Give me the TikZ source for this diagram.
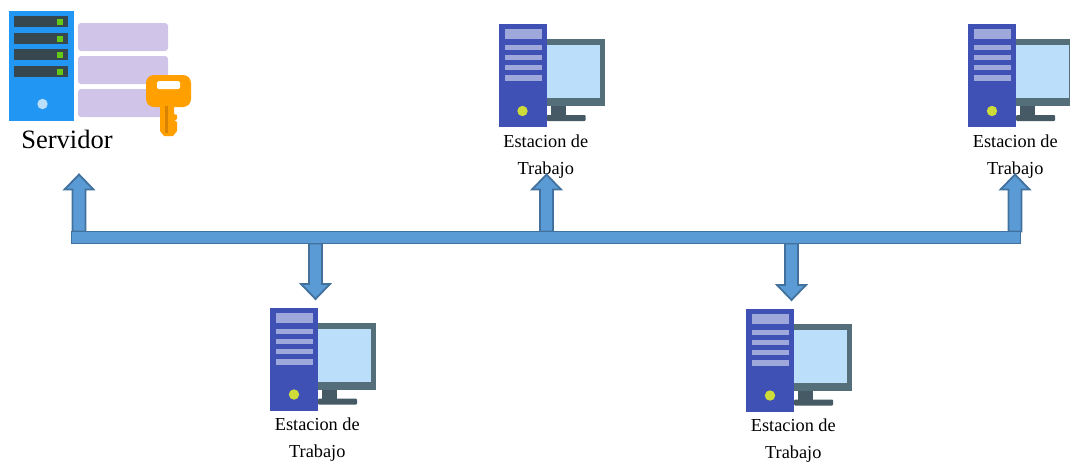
\documentclass[tikz,border=0pt]{standalone}
\usepackage{fontspec}
\setmainfont{Liberation Serif}
\usetikzlibrary{calc}
\definecolor{srvblue}{HTML}{2196F3}
\definecolor{slotdark}{HTML}{37474F}
\definecolor{ledgreen}{HTML}{64C916}
\definecolor{btnblue}{HTML}{BBDEFB}
\definecolor{lilac}{HTML}{D1C4E9}
\definecolor{keyorange}{HTML}{FFA000}
\definecolor{keydark}{HTML}{D98200}
\definecolor{towerblue}{HTML}{3F51B5}
\definecolor{towerline}{HTML}{9FA8DA}
\definecolor{towerled}{HTML}{CDDC39}
\definecolor{monframe}{HTML}{546E7A}
\definecolor{monstand}{HTML}{455A64}
\definecolor{busfill}{HTML}{5B9BD5}
\definecolor{busedge}{HTML}{41719C}
\pgfdeclarelayer{top}
\pgfsetlayers{main,top}
\tikzset{
  blockarrow/.style={fill=busfill,draw=busedge,line width=1.8pt,line join=miter},
  busbar/.style={rectangle,fill=busfill,draw=busedge,line width=1.8pt,inner sep=0pt,outer sep=0pt,minimum width=949pt,minimum height=12pt},
  stationlabel/.style={align=center,font=\fontsize{18.3}{27}\selectfont,inner sep=0pt,text=black},
  panel/.style={fill=lilac,rounded corners=3pt},
  srvslot/.style={fill=slotdark},
  srvled/.style={fill=ledgreen},
  towerbar/.style={fill=towerline}
}
\newcommand{\blockarrow}[2]{%
  \coordinate (s) at (bus.#1 -| #2);
  \coordinate (n) at ($(#2)!15pt!(s)$);
  \draw[blockarrow] ($(s)!6.5pt!90:(#2)$) -- ($(n)!6.5pt!90:(#2)$) -- ($(n)!14.5pt!90:(#2)$) -- (#2)
    -- ($(n)!14.5pt!-90:(#2)$) -- ($(n)!6.5pt!-90:(#2)$) -- ($(s)!6.5pt!-90:(#2)$) -- cycle;
}
\newcommand{\station}[3]{%
  \begin{scope}[shift={(#2,#3)}]
    \fill[monframe] (48,15) rectangle (106,82);
    \fill[btnblue] (48,21) rectangle (101,74);
    \fill[monstand] (52,82) rectangle (67,92);
    \fill[monstand,rounded corners=1pt] (48,91) rectangle (87,97);
    \fill[towerblue] (0,0) rectangle (48,103);
    \fill[towerbar] (6,5) rectangle (43,15);
    \fill[towerbar] (6,21) rectangle (43,26);
    \fill[towerbar] (6,31) rectangle (43,36);
    \fill[towerbar] (6,41) rectangle (43,46);
    \fill[towerbar] (6,51) rectangle (43,57);
    \fill[towerled] (24,87) circle (5.2pt);
    \node[stationlabel] (#1) at (47.3,132.5) {Estacion de\\Trabajo};
  \end{scope}
}
\begin{document}
\begin{tikzpicture}[x=1pt,y=-1pt]
\useasboundingbox (0,0) rectangle (1070,461);
\clip (0,0) rectangle (1070,461);
% server
\fill[srvblue] (9,11) rectangle (74,121);
\foreach \yy/\hh in {16/27,33/44,49/60,66/77}{
  \fill[srvslot] (14,\yy) rectangle (68,\hh);
  \fill[srvled] (57,\yy+2.5) rectangle (63,\hh-2.5);
}
\fill[btnblue] (42.5,104) circle (5.2pt);
\fill[panel] (78,23) rectangle (168,51);
\fill[panel] (78,56) rectangle (168,84);
\fill[panel] (78,89) rectangle (168,117);
% key
\fill[keyorange,rounded corners=8pt] (146,75) rectangle (191,107);
\fill[white,rounded corners=1.5pt] (157,81) rectangle (180,89);
\fill[keyorange] (160,105) -- (174,105) -- (174,114) -- (177,115) -- (177,119) -- (174.5,120.5) -- (177,122) -- (177,131) -- (173,136) -- (164,136) -- (160,131) -- cycle;
\fill[keydark] (165,106) rectangle (168,133);
\node[font=\fontsize{26.5}{30}\selectfont,inner sep=0pt] (servidor) at (67,139) {Servidor};
% stations
\station{st1}{498.5}{24}
\station{st2}{968}{24}
\station{st3}{270}{307.5}
\station{st4}{746}{308.5}
% bus on the top layer
\begin{pgfonlayer}{top}
\node[busbar] (bus) at (546,237.5) {};
\end{pgfonlayer}
\coordinate (tipa) at (79,174.5);
\coordinate (tipb) at (546.5,174.5);
\coordinate (tipc) at (1015,174.5);
\coordinate (tipd) at (315.5,299);
\coordinate (tipe) at (791.5,300);
\blockarrow{north}{tipa}
\blockarrow{north}{tipb}
\blockarrow{north}{tipc}
\blockarrow{south}{tipd}
\blockarrow{south}{tipe}
\end{tikzpicture}
\end{document}
